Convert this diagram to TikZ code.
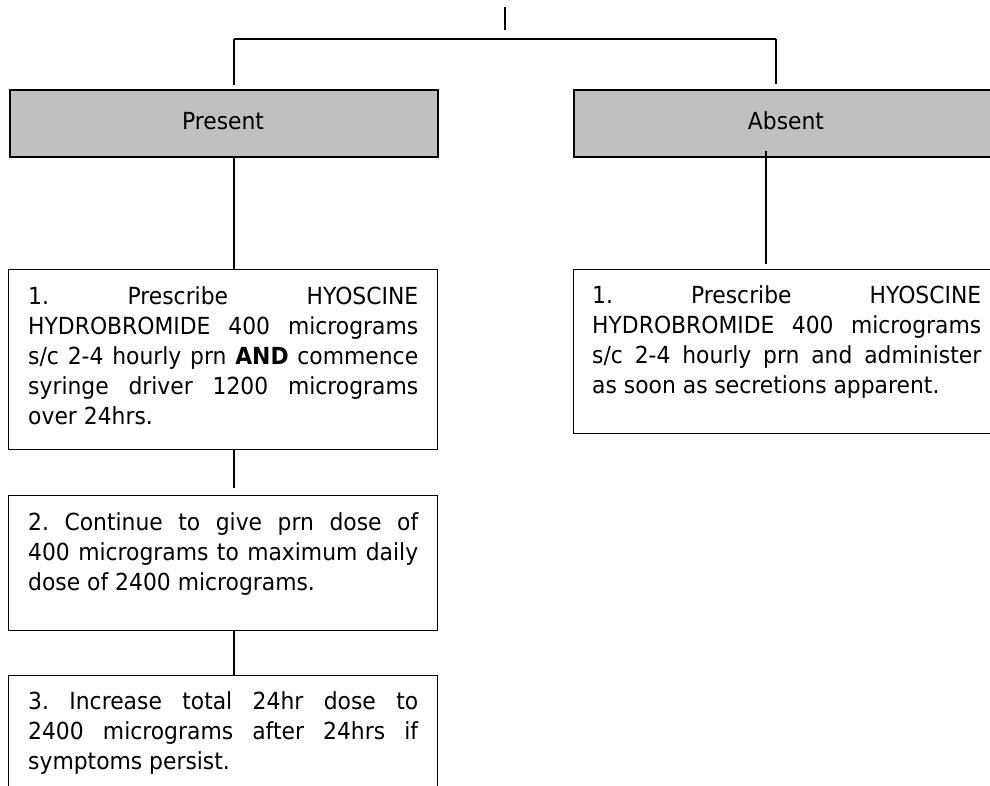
\documentclass[tikz,border=0pt]{standalone}
\usepackage{fontspec}
\setmainfont{DejaVu Sans}[FakeStretch=0.93]
\definecolor{boxgray}{HTML}{C0C0C0}
\newcommand\jline[1]{\makebox[\linewidth][s]{#1}}
\begin{document}
\frenchspacing
\begin{tikzpicture}[x=1pt,y=-1pt,
  graybox/.style={draw=black, line width=2pt, fill=boxgray, inner sep=0pt, anchor=north west, minimum height=67pt},
  textbox/.style={draw=black, line width=1.3pt, fill=white, inner sep=0pt, anchor=north west, minimum width=429pt},
  txt/.style={anchor=base west, inner sep=0pt, font=\fontsize{23.5}{30}\selectfont\frenchspacing},
  head/.style={anchor=base, inner sep=0pt, font=\fontsize{23.5}{30}\selectfont},
  conn/.style={line width=1.3pt, draw=black},
  thick conn/.style={line width=2pt, draw=black}]
\useasboundingbox (0,0) rectangle (990,786);
\clip (0,0) rectangle (990,786);
\fill[white] (0,0) rectangle (990,786);

% boxes
\node[graybox, minimum width=428pt] (present) at (9,89) {};
\node[graybox, minimum width=430pt] (absent) at (573,89) {};
\node[textbox, minimum height=180pt] (b1) at (8,269) {};
\node[textbox, minimum height=164pt, minimum width=430pt] (rb) at (573,269) {};
\node[textbox, minimum height=135pt] (b2) at (8,495) {};
\node[textbox, minimum height=130pt] (b3) at (8,675) {};

% texts
\node[head] (tpresent) at (223,130) {Present};
\node[head] (tabsent) at (786,130) {Absent};

\node[txt] (t1) at (28,304) {\parbox[t]{390pt}{\frenchspacing
\jline{1. Prescribe HYOSCINE}\\
\jline{HYDROBROMIDE 400 micrograms}\\
\jline{s/c 2-4 hourly prn \textbf{AND} commence}\\
\jline{syringe driver 1200 micrograms}\\
over 24hrs.}};

\node[txt] (trb) at (592,303) {\parbox[t]{389pt}{\frenchspacing
\jline{1. Prescribe HYOSCINE}\\
\jline{HYDROBROMIDE 400 micrograms}\\
\jline{s/c 2-4 hourly prn and administer}\\
as soon as secretions apparent.}};

\node[txt] (t2) at (28,530) {\parbox[t]{390pt}{\frenchspacing
\jline{2. Continue to give prn dose of}\\
\jline{400 micrograms to maximum daily}\\
dose of 2400 micrograms.}};

\node[txt] (t3) at (28,709) {\parbox[t]{390pt}{\frenchspacing
\jline{3. Increase total 24hr dose to}\\
\jline{2400 micrograms after 24hrs if}\\
symptoms persist.}};

% connector points
\coordinate (stubtop) at (505,7);
\coordinate (stubbot) at (505,30);
\coordinate (hl) at (234,39);
\coordinate (hr) at (776,39);
\coordinate (ax) at (766,151);

% connectors
\draw[thick conn] (stubtop) -- (stubbot);
\draw[thick conn] (hl) -- (hr);
\draw[conn] (hl) -- ([yshift=4pt]present.north -| hl);
\draw[conn] (hr) -- ([yshift=5pt]absent.north -| hr);
\draw[conn] (present.south -| hl) -- (b1.north -| hl);
\draw[conn] (ax) -- ([yshift=5pt]rb.north -| ax);
\draw[conn] (b1.south -| hl) -- ([yshift=7pt]b2.north -| hl);
\draw[conn] (b2.south -| hl) -- (b3.north -| hl);
\end{tikzpicture}
\end{document}
